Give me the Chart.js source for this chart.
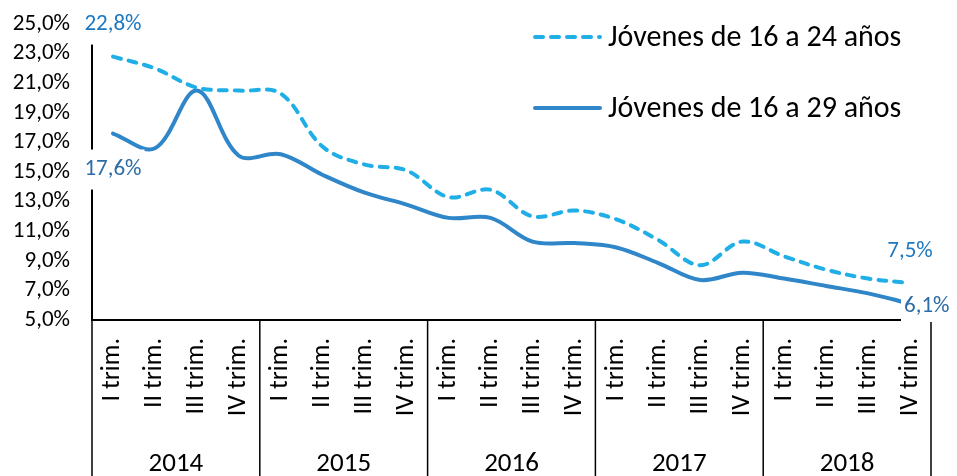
<!DOCTYPE html>
<html>
<head>
<meta charset="utf-8">
<script src="https://cdn.jsdelivr.net/npm/chart.js@4.4.1/dist/chart.umd.min.js"></script>
<style>
  html, body { margin: 0; background: #fff; }
  #wrap { width: 957px; height: 476px; }
</style>
</head>
<body>
<div id="wrap"><canvas id="chart" width="957" height="476"></canvas></div>
<script>
// data (percent)
const years = ['2014', '2015', '2016', '2017', '2018'];
const quarters = ['I trim.', 'II trim.', 'III trim.', 'IV trim.'];
const seriesNames = ['Jóvenes de 16 a 24 años', 'Jóvenes de 16 a 29 años'];
const jovenes16a24 = [22.8, 22.0, 20.7, 20.5, 20.3, 16.7, 15.5, 15.1, 13.3, 13.8, 12.0, 12.4, 11.8, 10.4, 8.7, 10.3, 9.3, 8.4, 7.8, 7.5];
const jovenes16a29 = [17.6, 16.6, 20.5, 16.1, 16.2, 14.8, 13.6, 12.8, 11.9, 11.9, 10.3, 10.2, 9.9, 8.85, 7.7, 8.2, 7.8, 7.3, 6.8, 6.1];
const yMin = 5;
const yMax = 25;
const yStep = 2;

const categories = years.flatMap(() => quarters);

const FONT = "Carlito, Lato, sans-serif";
const LIGHT = '#1fafe6';
const DARK = '#2f86c8';

const pct = v => v.toFixed(1).replace('.', ',') + '%';

// which points get a value label, and where
const valueLabels = [
  { ds: 0, idx: 0, place: 'above', color: '#1c78c0' },
  { ds: 1, idx: 0, place: 'below', color: '#2c6ca6' },
  { ds: 0, idx: 19, place: 'above', color: '#1c78c0' },
  { ds: 1, idx: 19, place: 'right', color: '#2c6ca6' },
];

const valueLabelPlugin = {
  id: 'valueLabels',
  afterDatasetsDraw(chart) {
    const ctx = chart.ctx;
    ctx.save();
    ctx.font = '23px ' + FONT;
    ctx.textBaseline = 'middle';
    ctx.textAlign = 'center';
    valueLabels.forEach(l => {
      const pt = chart.getDatasetMeta(l.ds).data[l.idx];
      const text = pct(chart.data.datasets[l.ds].data[l.idx]);
      const w = ctx.measureText(text).width;
      let x = pt.x, y = pt.y;
      if (l.place === 'above') y -= 32;
      if (l.place === 'below') y += 36;
      if (l.place === 'right') { x += w / 2 - 6; y += 3; }
      ctx.fillStyle = '#fff';
      ctx.fillRect(x - w / 2 - 3, y - 20, w + 6, 40);
      ctx.fillStyle = l.color;
      ctx.fillText(text, x, y);
    });
    ctx.restore();
  }
};

const yearAxisPlugin = {
  id: 'yearAxis',
  afterDraw(chart) {
    const ctx = chart.ctx;
    const xs = chart.scales.x;
    const bottom = chart.height;
    const top = chart.chartArea.bottom;
    ctx.save();
    ctx.strokeStyle = '#000';
    ctx.lineWidth = 1.5;
    ctx.fillStyle = '#000';
    ctx.font = '27px ' + FONT;
    ctx.textAlign = 'center';
    ctx.textBaseline = 'middle';
    const half = (xs.getPixelForValue(1) - xs.getPixelForValue(0)) / 2;
    years.forEach((yr, i) => {
      const first = i * quarters.length;
      const last = first + quarters.length - 1;
      const x0 = xs.getPixelForValue(first) - half;
      const x1 = xs.getPixelForValue(last) + half;
      ctx.beginPath();
      ctx.moveTo(x0, top);
      ctx.lineTo(x0, bottom);
      if (i === years.length - 1) {
        ctx.moveTo(x1, top + 2);
        ctx.lineTo(x1, bottom);
      }
      ctx.stroke();
      ctx.fillText(yr, (x0 + x1) / 2, 464);
    });
    ctx.restore();
  }
};

const legendPlugin = {
  id: 'sideLegend',
  afterDraw(chart) {
    const ctx = chart.ctx;
    ctx.save();
    chart.data.datasets.forEach((ds, i) => {
      const y = 37 + i * 71;
      ctx.strokeStyle = ds.borderColor;
      ctx.lineWidth = 4;
      ctx.lineCap = 'round';
      ctx.setLineDash(ds.borderDash || []);
      ctx.beginPath();
      ctx.moveTo(535, y);
      ctx.lineTo(600, y);
      ctx.stroke();
      ctx.setLineDash([]);
      ctx.fillStyle = '#000';
      ctx.font = '30px ' + FONT;
      ctx.textBaseline = 'middle';
      ctx.textAlign = 'left';
      ctx.fillText(ds.label, 608, y + 1);
    });
    ctx.restore();
  }
};

new Chart(document.getElementById('chart'), {
  type: 'line',
  data: {
    labels: categories,
    datasets: [
      {
        label: seriesNames[0],
        data: jovenes16a24,
        borderColor: LIGHT,
        borderWidth: 4,
        borderDash: [8, 8],
        borderCapStyle: 'round',
        tension: 0.35,
        pointRadius: 0,
        fill: false,
      },
      {
        label: seriesNames[1],
        data: jovenes16a29,
        borderColor: DARK,
        borderWidth: 4,
        borderCapStyle: 'round',
        tension: 0.35,
        pointRadius: 0,
        fill: false,
      },
    ],
  },
  options: {
    responsive: false,
    animation: false,
    events: [],
    layout: { padding: { top: 24, right: 26, left: 0, bottom: 0 } },
    plugins: {
      legend: { display: false },
      tooltip: { enabled: false },
    },
    scales: {
      x: {
        offset: true,
        grid: { display: false, drawTicks: false },
        border: { display: true, color: '#000', width: 2 },
        ticks: {
          autoSkip: false,
          minRotation: 90,
          maxRotation: 90,
          padding: 18,
          color: '#000',
          font: { family: FONT, size: 26 },
        },
        afterFit(scale) {
          scale.height = 156;
          scale.paddingLeft = 0;
          scale.paddingRight = 0;
        },
      },
      y: {
        min: yMin,
        max: yMax,
        grid: { display: false, drawTicks: false },
        border: { display: true, color: '#000', width: 2 },
        ticks: {
          stepSize: yStep,
          autoSkip: false,
          padding: 22,
          color: '#000',
          font: { family: FONT, size: 23 },
          callback: v => pct(v),
        },
        afterFit(scale) {
          scale.width = 92;
          scale.paddingTop = 0;
          scale.paddingBottom = 0;
        },
      },
    },
  },
  plugins: [valueLabelPlugin, yearAxisPlugin, legendPlugin],
});
</script>
</body>
</html>
